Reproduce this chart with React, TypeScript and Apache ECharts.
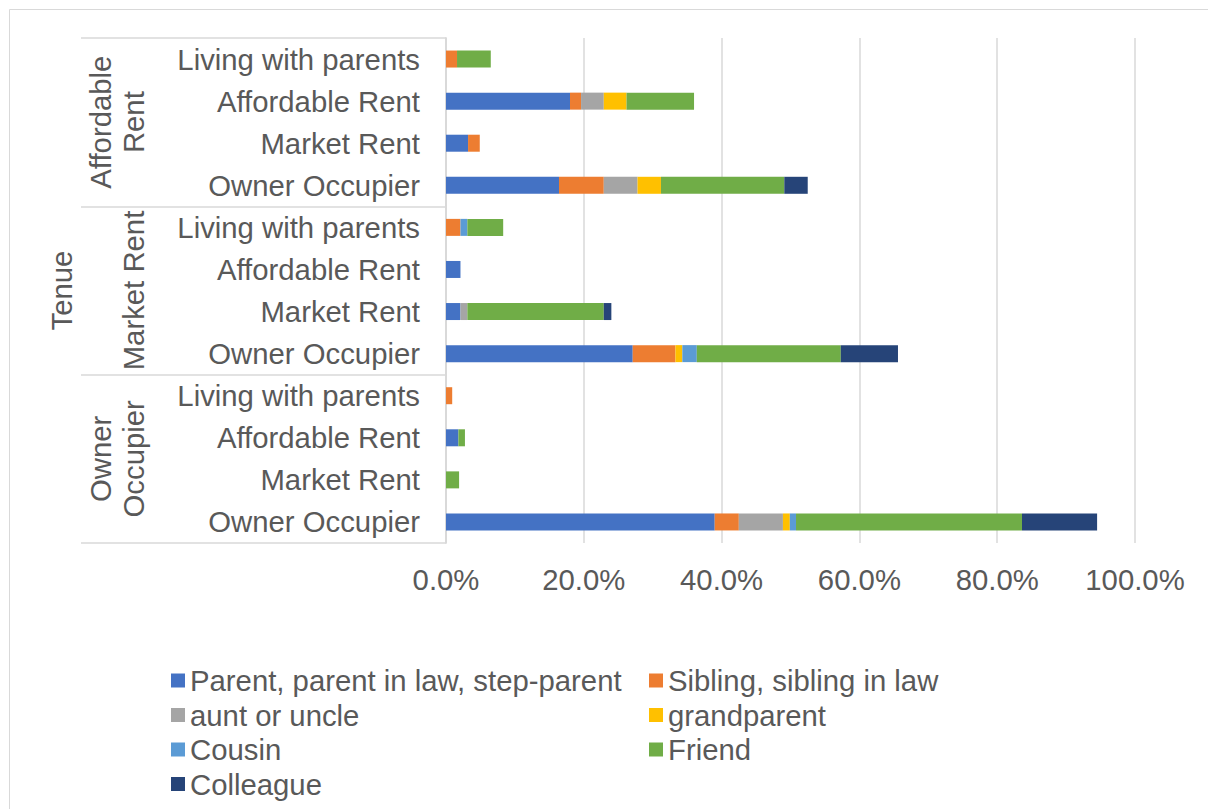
import React, { useEffect, useRef } from "react";
import * as echarts from "echarts";

const groups = ["Affordable\nRent", "Market Rent", "Owner\nOccupier"];
const categories = [
  "Living with parents", "Affordable Rent", "Market Rent", "Owner Occupier",
  "Living with parents", "Affordable Rent", "Market Rent", "Owner Occupier",
  "Living with parents", "Affordable Rent", "Market Rent", "Owner Occupier",
];
const xTicks = { min: 0, max: 100, interval: 20 };

const parent = [0, 18.0, 3.2, 16.4, 0, 2.1, 2.1, 27.1, 0, 1.8, 0, 39.0];
const sibling = [1.6, 1.6, 1.7, 6.5, 2.1, 0, 0, 6.2, 0.9, 0, 0, 3.5];
const auntUncle = [0, 3.3, 0, 4.9, 0, 0, 1.0, 0, 0, 0, 0, 6.4];
const grandparent = [0, 3.3, 0, 3.4, 0, 0, 0, 1.0, 0, 0, 0, 1.0];
const cousin = [0, 0, 0, 0, 1.0, 0, 0, 2.1, 0, 0, 0, 0.9];
const friend = [4.9, 9.8, 0, 17.9, 5.2, 0, 19.8, 20.9, 0, 0.95, 1.9, 32.8];
const colleague = [0, 0, 0, 3.4, 0, 0, 1.1, 8.3, 0, 0, 0, 10.9];

const seriesDefs = [
  { name: "Parent, parent in law, step-parent", data: parent, color: "#4472C4" },
  { name: "Sibling, sibling in law", data: sibling, color: "#ED7D31" },
  { name: "aunt or uncle", data: auntUncle, color: "#A5A5A5" },
  { name: "grandparent", data: grandparent, color: "#FFC000" },
  { name: "Cousin", data: cousin, color: "#5B9BD5" },
  { name: "Friend", data: friend, color: "#70AD47" },
  { name: "Colleague", data: colleague, color: "#264478" },
];

const leftLegend = ["Parent, parent in law, step-parent", "aunt or uncle", "Cousin", "Colleague"];
const rightLegend = ["Sibling, sibling in law", "grandparent", "Friend"];

const FONT = "'Liberation Sans', Arial, sans-serif";
const FS = 29.3;
const TEXT = "#595959";
const GRID_LINE = "#D9D9D9";

export default function App() {
  const ref = useRef<HTMLDivElement>(null);
  useEffect(() => {
    if (!ref.current) return;
    const chart = echarts.init(ref.current, undefined, { renderer: "svg" });
    const legendCommon = {
      orient: "vertical",
      itemWidth: 14,
      itemHeight: 14,
      itemGap: 5.5,
      padding: 0,
      icon: "rect",
      textStyle: { fontFamily: FONT, fontSize: FS, color: TEXT, lineHeight: 29 },
    };
    chart.setOption({
      animation: false,
      backgroundColor: "#fff",
      textStyle: { fontFamily: FONT },
      graphic: [
        {
          type: "rect",
          shape: { x: 9.5, y: 9.5, width: 1400, height: 1000 },
          style: { fill: "none", stroke: GRID_LINE, lineWidth: 1 },
          silent: true,
        },
      ],
      legend: [
        { ...legendCommon, left: 171, top: 666, data: leftLegend },
        { ...legendCommon, left: 649, top: 666, data: rightLegend },
      ],
      grid: { left: 446, right: 73, top: 38, bottom: 266, containLabel: false, outerBoundsMode: "none" },
      xAxis: {
        type: "value",
        min: xTicks.min,
        max: xTicks.max,
        interval: xTicks.interval,
        axisLine: { show: false },
        axisTick: { show: false },
        splitLine: { show: true, lineStyle: { color: GRID_LINE, width: 1.5 } },
        axisLabel: {
          formatter: (v: number) => v.toFixed(1) + "%",
          fontSize: FS,
          color: TEXT,
          fontFamily: FONT,
          margin: 22,
        },
      },
      yAxis: [
        {
          type: "category",
          data: categories,
          inverse: true,
          axisLine: { show: true, lineStyle: { color: GRID_LINE, width: 1.5 } },
          axisTick: { show: false },
          axisLabel: { interval: 0, fontSize: FS, color: TEXT, fontFamily: FONT, margin: 26 },
        },
        {
          type: "category",
          data: groups,
          inverse: true,
          position: "left",
          axisLine: { show: true, lineStyle: { color: GRID_LINE, width: 1.5 } },
          axisTick: { show: true, length: 365, lineStyle: { color: GRID_LINE, width: 1.5 } },
          axisLabel: {
            interval: 0,
            rotate: 90,
            fontSize: FS,
            lineHeight: 33,
            color: TEXT,
            fontFamily: FONT,
            margin: 296,
          },
          name: "Tenue",
          nameLocation: "middle",
          nameRotate: 90,
          nameGap: 368,
          nameTextStyle: { fontSize: FS, color: TEXT, fontFamily: FONT },
        },
      ],
      series: seriesDefs.map((s) => ({
        type: "bar",
        name: s.name,
        stack: "total",
        yAxisIndex: 0,
        barWidth: 17,
        data: s.data,
        itemStyle: { color: s.color },
      })),
    });
    return () => chart.dispose();
  }, []);
  return (
    <div
      ref={ref}
      style={{ position: "absolute", left: 0, top: 0, width: 1208, height: 809 }}
    />
  );
}
